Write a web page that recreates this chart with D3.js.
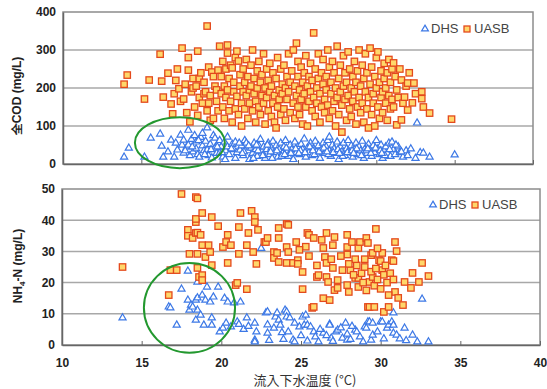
<!DOCTYPE html>
<html>
<head>
<meta charset="utf-8">
<script src="https://cdn.jsdelivr.net/npm/d3@7"></script>
<style>
  body { margin: 0; background: #fff; }
  text { font-family: "Liberation Sans", Arial, sans-serif; }
</style>
</head>
<body>
<div id="chart"></div>
<script>
// eixo X compartilhado (temperatura do esgoto afluente, °C)
var xTicks = [10, 15, 20, 25, 30, 35, 40];
var codTicks = [0, 100, 200, 300, 400];
var nh4Ticks = [0, 10, 20, 30, 40, 50];
var legendNames = ["DHS", "UASB"];

// 全COD (mg/L) - UASB  [temp, valor]
var codUasb = [
  [13.9,210],[14.1,234],[15.2,171],[15.5,221],[16.2,289],[16.3,218],[16.4,176],[16.7,239],[16.9,158],[17.0,132],
  [17.1,185],[17.2,220],[17.3,250],[17.4,198],[17.5,165],[17.6,305],[17.7,171],[17.8,210],[17.9,135],[18.0,280],
  [18.0,247],[18.1,111],[18.2,190],[18.3,225],[18.3,200],[18.4,150],[18.5,205],[18.6,297],[18.6,128],[18.7,175],
  [18.7,225],[18.8,240],[18.9,160],[19.0,215],[19.0,185],[19.1,190],[19.2,363],[19.2,140],[19.3,255],[19.3,160],
  [19.4,180],[19.4,115],[19.5,242],[19.6,120],[19.6,230],[19.7,205],[19.8,165],[19.8,195],[19.9,247],[19.9,140],
  [20.0,310],[20.1,185],[20.1,230],[20.2,150],[20.2,270],[20.3,205],[20.3,120],[20.4,175],[20.4,250],[20.5,313],
  [20.5,292],[20.5,195],[20.6,140],[20.6,225],[20.7,165],[20.7,260],[20.8,253],[20.8,110],[20.9,190],[20.9,215],
  [21.0,145],[21.0,280],[21.1,297],[21.1,178],[21.2,271],[21.2,130],[21.3,205],[21.3,235],[21.4,160],[21.4,100],
  [21.5,190],[21.5,250],[21.6,215],[21.6,145],[21.7,275],[21.7,180],[21.8,120],[21.8,230],[21.9,195],[21.9,160],
  [22.0,260],[22.0,205],[22.1,140],[22.1,300],[22.2,185],[22.2,225],[22.3,110],[22.3,165],[22.4,245],[22.4,200],
  [22.5,150],[22.5,270],[22.6,215],[22.6,130],[22.7,180],[22.7,235],[22.8,160],[22.8,290],[22.9,200],[22.9,105],
  [23.0,250],[23.0,175],[23.1,140],[23.1,220],[23.2,190],[23.2,265],[23.3,125],[23.3,205],[23.4,160],[23.4,240],
  [23.5,180],[23.5,110],[23.6,225],[23.6,95],[23.7,150],[23.7,280],[23.8,195],[23.8,170],[23.9,250],[23.9,130],
  [24.0,210],[24.0,185],[24.1,145],[24.1,260],[24.2,200],[24.2,115],[24.3,230],[24.3,170],[24.4,290],[24.4,190],
  [24.5,135],[24.5,215],[24.6,245],[24.7,300],[24.7,160],[24.8,205],[24.8,120],[24.9,318],[24.9,180],[25.0,230],
  [25.0,150],[25.0,270],[25.1,195],[25.1,130],[25.2,255],[25.2,170],[25.3,215],[25.3,105],[25.4,240],[25.4,185],
  [25.5,150],[25.5,285],[25.6,100],[25.6,205],[25.7,230],[25.7,165],[25.8,190],[25.8,265],[25.9,140],[25.9,220],
  [26.0,345],[26.0,175],[26.1,250],[26.1,125],[26.2,200],[26.2,160],[26.3,290],[26.3,225],[26.4,185],[26.4,110],
  [26.5,240],[26.5,150],[26.6,210],[26.6,275],[26.7,170],[26.7,135],[26.8,230],[26.8,195],[26.9,300],[26.9,155],
  [27.0,255],[27.0,120],[27.1,185],[27.1,215],[27.2,140],[27.2,270],[27.3,165],[27.3,240],[27.4,100],[27.4,200],
  [27.5,310],[27.5,175],[27.6,225],[27.6,130],[27.7,260],[27.7,190],[27.8,84],[27.8,155],[27.9,205],[27.9,285],
  [28.0,170],[28.0,240],[28.1,115],[28.1,215],[28.2,180],[28.2,295],[28.3,145],[28.3,250],[28.4,200],[28.4,125],
  [28.5,230],[28.5,165],[28.6,270],[28.6,190],[28.7,105],[28.7,215],[28.8,150],[28.8,245],[28.9,175],[28.9,300],
  [29.0,135],[29.0,205],[29.1,260],[29.1,160],[29.2,225],[29.2,110],[29.3,190],[29.3,290],[29.4,145],[29.4,240],
  [29.5,175],[29.5,95],[29.6,210],[29.6,305],[29.7,130],[29.7,255],[29.8,185],[29.8,160],[29.9,230],[29.9,100],
  [30.0,280],[30.0,200],[30.1,150],[30.1,295],[30.2,215],[30.2,120],[30.3,245],[30.3,175],[30.4,190],[30.4,135],
  [30.5,265],[30.5,225],[30.6,160],[30.6,200],[30.7,115],[30.7,240],[30.8,180],[30.8,275],[30.9,145],[30.9,215],
  [31.0,250],[31.0,170],[31.1,266],[31.1,150],[31.2,230],[31.3,103],[31.3,195],[31.4,175],[31.5,250],[31.6,221],
  [31.6,116],[31.7,160],[31.8,176],[31.9,205],[32.0,213],[32.0,142],[32.1,240],[32.3,161],[32.4,213],[32.5,185],
  [32.9,190],[32.9,172],[33.0,150],[33.4,134],[34.8,118]
];

// 全COD (mg/L) - DHS
var codDhs = [
  [13.9,18],[14.2,42],[15.2,18],[15.6,68],[16.2,79],[16.3,47],[16.4,18],[16.7,32],[16.9,63],[17.1,18],
  [17.3,37],[17.5,76],[17.6,50],[17.7,63],[17.7,29],[17.9,45],[18.0,89],[18.0,50],[18.1,22],[18.2,65],
  [18.3,32],[18.4,75],[18.5,58],[18.5,40],[18.6,25],[18.7,18],[18.8,70],[18.9,81],[18.9,48],[19.0,35],
  [19.1,60],[19.2,95],[19.2,37],[19.3,22],[19.4,52],[19.5,16],[19.6,75],[19.7,68],[19.7,42],[19.8,28],
  [19.9,55],[20.0,29],[20.0,62],[20.1,45],[20.2,18],[20.3,58],[20.4,35],[20.5,71],[20.5,45],[20.6,25],
  [20.8,52],[20.9,38],[21.0,58],[21.0,15],[21.1,30],[21.3,37],[21.4,48],[21.5,22],[21.6,62],[21.7,55],
  [21.8,35],[21.9,12],[22.0,42],[22.1,28],[22.2,55],[22.3,38],[22.4,20],[22.5,48],[22.6,65],[22.7,32],
  [22.8,45],[22.9,15],[23.0,38],[23.1,55],[23.2,25],[23.3,42],[23.4,60],[23.5,30],[23.6,48],[23.7,18],
  [23.8,38],[23.9,55],[24.0,28],[24.1,45],[24.2,62],[24.3,35],[24.4,20],[24.5,50],[24.6,38],[24.7,12],
  [24.8,58],[24.9,30],[25.0,45],[25.1,25],[25.2,52],[25.3,38],[25.4,66],[25.5,18],[25.6,42],[25.7,30],
  [25.8,55],[25.9,22],[26.0,40],[26.1,60],[26.2,32],[26.3,48],[26.4,15],[26.5,38],[26.6,55],[26.7,28],
  [26.8,45],[26.9,62],[27.0,71],[27.0,35],[27.1,20],[27.2,50],[27.3,40],[27.4,28],[27.5,58],[27.6,12],
  [27.7,45],[27.8,32],[27.9,55],[28.0,22],[28.1,40],[28.2,62],[28.3,30],[28.4,48],[28.5,18],[28.6,38],
  [28.7,55],[28.8,25],[28.9,45],[29.0,35],[29.1,60],[29.2,15],[29.3,42],[29.4,28],[29.5,52],[29.6,38],
  [29.7,20],[29.8,48],[29.9,30],[30.0,62],[30.1,40],[30.2,25],[30.3,50],[30.4,15],[30.5,35],[30.6,45],
  [30.7,28],[30.8,55],[30.9,20],[31.0,58],[31.1,38],[31.2,25],[31.4,45],[31.5,30],[31.7,18],[31.9,35],
  [32.0,22],[32.2,40],[32.5,15],[32.6,108],[32.8,30],[33.0,29],[33.4,18],[35.0,24],
  [20.15,30],[20.35,12],[20.75,40],[21.25,55],[21.55,32],[21.85,48],[22.15,15],[22.45,35],[22.75,22],[23.05,50],
  [23.35,15],[23.65,35],[23.95,20],[24.25,42],[24.55,28],[24.85,40],[25.15,35],[25.45,30],[25.75,45],[26.05,25],
  [26.35,32],[26.65,42],[26.95,25],[27.25,30],[27.55,38],[27.85,20],[28.15,30],[28.45,35],[28.75,40],[29.05,22],
  [29.35,35],[29.65,28],[29.95,42],[30.25,35],[30.55,22],[30.85,38],[31.25,50],[31.6,32],
  [17.2,55],[17.8,35],[18.25,45],[18.65,62],[19.05,25],[19.45,38],[19.85,45],[21.45,28],[22.35,50],[23.25,32],
  [24.15,25],[25.05,28],[25.95,35],[26.85,32],[27.65,28],[28.55,28],[29.45,40],[30.35,28]
];

// NH4-N (mg/L) - UASB
var nh4Uasb = [
  [13.8,25.0],[16.7,16.0],[16.8,24.0],[17.2,24.0],[17.5,48.4],[17.9,36.9],[17.9,35.0],[18.0,29.2],[18.2,34.3],[18.4,47.4],
  [18.4,39.4],[18.4,35.9],[18.4,40.4],[18.5,36.0],[18.5,29.2],[18.5,24.7],[18.5,47.0],[18.6,21.8],[18.7,35.3],[18.8,42.3],
  [18.8,32.0],[18.8,22.4],[18.8,20.8],[19.0,28.2],[19.2,32.0],[19.3,29.8],[19.4,41.0],[19.4,25.6],[19.8,38.1],[20.1,31.4],
  [20.3,33.0],[20.4,35.3],[20.4,26.3],[20.6,32.0],[20.9,19.2],[21.0,19.9],[21.1,37.8],[21.1,29.2],[21.2,42.3],[21.6,32.0],
  [21.6,17.9],[21.7,35.9],[21.9,43.0],[22.0,29.8],[22.1,41.0],[22.1,39.4],[22.2,26.0],[22.3,36.9],[22.7,33.0],[22.8,33.0],
  [22.9,34.3],[23.3,29.8],[23.3,27.9],[23.5,29.5],[23.6,37.5],[23.6,34.3],[23.6,26.6],[24.1,38.8],[24.1,31.4],[24.1,26.3],
  [24.2,29.8],[24.2,38.5],[24.5,26.3],[24.7,33.0],[24.8,27.2],[24.8,26.0],[25.1,23.4],[25.1,17.9],[25.4,35.9],[25.5,35.3],
  [25.7,11.9],[25.8,34.3],[25.8,12.2],[26.0,21.8],[26.1,22.4],[26.3,33.7],[26.4,31.1],[26.4,15.0],[26.5,28.2],[26.6,35.9],
  [26.6,26.3],[26.6,21.8],[26.7,20.2],[26.8,14.4],[27.0,32.0],[27.0,24.7],[27.1,34.6],[27.1,17.6],[27.3,20.8],[27.3,18.3],
  [27.9,35.3],[27.9,31.4],[27.9,29.0],[27.9,19.2],[28.0,17.0],[28.2,33.0],[28.4,21.5],[28.6,31.1],[28.6,21.5],[28.6,18.6],
  [28.7,33.0],[29.1,34.3],[29.2,32.7],[29.2,12.2],[29.3,20.2],[29.3,12.2],[29.4,28.8],[29.5,29.5],[29.5,21.8],[29.6,12.2],
  [29.7,37.2],[29.9,27.2],[30.0,26.9],[30.1,24.0],[30.2,10.6],[30.5,12.2],[30.7,27.2],[30.8,26.9],[30.9,33.0],[30.9,17.0],
  [31.0,30.1],[31.1,15.1],[31.4,12.8],[31.5,20.2],[31.9,18.3],[32.0,23.1],[32.4,20.2],[32.6,26.3],[33.0,22.1],
  [28.1,24.0],[28.3,22.5],[28.5,25.5],[28.8,23.0],[28.9,20.0],[29.0,25.0],[29.1,17.5],[29.4,23.5],[29.6,19.0],[29.7,24.5],
  [29.8,21.0],[30.0,18.0],[30.2,22.5],[30.3,25.5],[30.4,20.0],[30.5,16.0],[30.6,23.0],[30.8,21.0],[29.0,27.5],[28.4,27.5],
  [30.1,29.5],[29.8,31.0],[28.0,26.0],[27.6,24.0],[27.5,28.5],[26.9,27.5],[25.5,28.5],[25.3,31.5],[26.0,25.5],[24.9,30.5]
];

// NH4-N (mg/L) - DHS
var nh4Dhs = [
  [13.8,8.7],[16.7,12.2],[16.8,11.9],[17.2,6.4],[17.5,17.9],[17.9,23.7],[17.9,14.4],[18.0,11.2],[18.1,12.8],[18.4,14.4],
  [18.4,8.0],[18.5,20.2],[18.5,15.1],[18.5,11.2],[18.2,12.2],[18.7,9.6],[18.8,16.0],[18.9,6.4],[19.0,14.4],[19.1,18.6],
  [19.3,13.8],[19.4,8.7],[19.4,6.4],[19.5,15.4],[19.8,18.6],[19.9,4.2],[20.1,5.4],[20.2,15.0],[20.3,7.0],[20.4,13.8],
  [20.6,5.8],[20.8,13.5],[21.0,7.4],[21.1,6.6],[21.2,13.8],[21.4,5.0],[21.6,8.7],[21.7,6.0],[22.1,7.0],[22.1,1.6],
  [22.1,1.0],[22.2,4.2],[22.5,31.0],[22.8,10.3],[22.9,10.6],[22.9,3.8],[22.9,6.5],[23.3,5.4],[23.4,9.0],[23.5,10.3],
  [23.6,8.0],[23.7,6.4],[23.8,4.0],[24.0,11.2],[24.1,10.6],[24.1,9.0],[24.2,4.2],[24.3,8.7],[24.5,1.6],[24.6,7.0],
  [24.6,1.0],[24.9,5.8],[25.1,9.0],[25.2,6.4],[25.3,9.6],[25.4,1.3],[25.4,6.4],[25.6,5.8],[25.8,4.2],[25.9,2.6],
  [26.4,3.8],[26.8,6.7],[26.8,6.4],[26.9,2.2],[27.2,4.2],[27.3,4.8],[27.6,2.2],[27.8,7.0],[27.9,1.6],[28.4,4.8],
  [28.5,4.2],[28.7,2.6],[29.0,5.8],[29.1,5.4],[29.2,7.4],[29.3,7.4],[29.4,1.6],[29.5,7.0],[29.5,3.2],[29.8,4.2],
  [30.0,7.4],[30.1,7.4],[30.2,2.0],[30.4,5.4],[30.5,6.4],[30.7,7.4],[30.8,10.3],[30.8,6.4],[30.8,3.8],[31.0,3.2],
  [31.2,2.0],[31.5,5.4],[31.6,1.4],[32.0,3.2],[32.3,1.0],[32.6,14.7],[33.0,1.0],
  [26.1,1.0],[26.6,3.0],[27.0,1.2],[27.5,5.5],[28.1,1.8],[28.9,1.0],[27.9,3.5],[28.2,6.0],[26.2,5.0],[25.0,3.0],
  [23.0,1.5],[23.9,1.8]
];

// elipses verdes (centro e raios em unidades dos dados)
var codCircle = { t: 17.46, v: 56, rt: 2.87, rv: 67 };
var nh4Circle = { t: 18.0, v: 11.9, rt: 2.86, rv: 14.4 };

var svg = d3.select("#chart")
  .append("svg")
  .attr("width", 547)
  .attr("height", 389);

function drawPanel(p) {
  var x = d3.scaleLinear().domain([10, 40]).range([p.left, p.right]);
  var y = d3.scaleLinear().domain([0, p.ticks[p.ticks.length - 1]]).range([p.bottom, p.top]);
  var g = svg.append("g");

  // linhas de grade
  g.append("g").selectAll("line")
    .data(p.ticks.slice(1, -1))
    .enter().append("line")
    .attr("x1", p.left).attr("x2", p.right)
    .attr("y1", function (d) { return y(d); })
    .attr("y2", function (d) { return y(d); })
    .attr("stroke", "#a8a8a8")
    .attr("stroke-width", 1.5);

  // moldura
  g.append("rect")
    .attr("x", p.left).attr("y", p.top)
    .attr("width", p.right - p.left).attr("height", p.bottom - p.top)
    .attr("fill", "none")
    .attr("stroke", "#8c8c8c")
    .attr("stroke-width", 1.5);

  // eixo Y
  var yAxis = g.append("g")
    .attr("transform", "translate(" + p.left + ",0)")
    .call(d3.axisLeft(y).tickValues(p.ticks).tickSize(0).tickPadding(7));
  yAxis.select(".domain").attr("stroke", "#666").attr("stroke-width", 1.5);
  yAxis.selectAll("text")
    .style("font-size", "12px").style("font-weight", "bold").attr("fill", "#222");

  // eixo X
  var xAxis = g.append("g")
    .attr("transform", "translate(0," + p.bottom + ")")
    .call(d3.axisBottom(x).tickValues(xTicks).tickSizeInner(-4).tickSizeOuter(0).tickPadding(13));
  xAxis.select(".domain").attr("stroke", "#666").attr("stroke-width", 1.5);
  xAxis.selectAll("line").attr("stroke", "#666");
  if (p.xLabels) {
    xAxis.selectAll("text")
      .style("font-size", "12px").style("font-weight", "bold").attr("fill", "#222");
  } else {
    xAxis.selectAll("text").remove();
  }

  // pontos DHS (triângulos)
  g.append("g").selectAll("path")
    .data(p.dhs)
    .enter().append("path")
    .attr("d", d3.symbol().type(d3.symbolTriangle).size(22))
    .attr("transform", function (d) { return "translate(" + x(d[0]) + "," + y(d[1]) + ")"; })
    .attr("fill", "#fff")
    .attr("stroke", "#3c78e6")
    .attr("stroke-width", 1.2);

  // pontos UASB (quadrados)
  g.append("g").selectAll("rect")
    .data(p.uasb)
    .enter().append("rect")
    .attr("x", function (d) { return x(d[0]) - 3.2; })
    .attr("y", function (d) { return y(d[1]) - 3.2; })
    .attr("width", 6.4).attr("height", 6.4)
    .attr("fill", "#ffd76a")
    .attr("stroke", "#e4491c")
    .attr("stroke-width", 1.3);

  // elipse
  var c = p.circle;
  g.append("ellipse")
    .attr("cx", x(c.t)).attr("cy", y(c.v))
    .attr("rx", x(c.t + c.rt) - x(c.t))
    .attr("ry", y(c.v) - y(c.v + c.rv))
    .attr("fill", "none")
    .attr("stroke", "#23982f")
    .attr("stroke-width", 2);

  // legenda
  var lg = g.append("g").attr("transform", "translate(" + p.legendX + "," + p.legendY + ")");
  lg.append("path")
    .attr("d", d3.symbol().type(d3.symbolTriangle).size(20))
    .attr("transform", "translate(0,-4)")
    .attr("fill", "#fff").attr("stroke", "#3c78e6").attr("stroke-width", 1.2);
  lg.append("text").attr("x", 6).attr("y", 0).text(legendNames[0])
    .style("font-size", "13px").attr("fill", "#444");
  lg.append("rect").attr("x", 39).attr("y", -7).attr("width", 6).attr("height", 6)
    .attr("fill", "#ffd76a").attr("stroke", "#e4491c").attr("stroke-width", 1.3);
  lg.append("text").attr("x", 49).attr("y", 0).text(legendNames[1])
    .style("font-size", "13px").attr("fill", "#444");

  return { x: x, y: y };
}

drawPanel({
  left: 63, right: 533, top: 12, bottom: 164,
  ticks: codTicks, dhs: codDhs, uasb: codUasb, circle: codCircle,
  xLabels: false, legendX: 425, legendY: 33
});

drawPanel({
  left: 62, right: 540, top: 189, bottom: 345,
  ticks: nh4Ticks, dhs: nh4Dhs, uasb: nh4Uasb, circle: nh4Circle,
  xLabels: true, legendX: 433, legendY: 209
});

// títulos dos eixos
svg.append("text")
  .attr("transform", "translate(21,96) rotate(-90)")
  .attr("text-anchor", "middle")
  .style("font-size", "12px").style("font-weight", "bold").attr("fill", "#222")
  .text("全COD (mg/L)");

var nh4Label = svg.append("text")
  .attr("transform", "translate(22,266) rotate(-90)")
  .attr("text-anchor", "middle")
  .style("font-size", "12px").style("font-weight", "bold").attr("fill", "#222");
nh4Label.append("tspan").text("NH");
nh4Label.append("tspan").attr("dy", 3).style("font-size", "8px").text("4");
nh4Label.append("tspan").attr("dy", -3).text("-N (mg/L)");

svg.append("text")
  .attr("x", 305).attr("y", 385)
  .attr("text-anchor", "middle")
  .style("font-family", "'Noto Sans CJK JP', sans-serif")
  .style("font-size", "13px").attr("fill", "#333")
  .text("流入下水温度 (°C)");
</script>
</body>
</html>
